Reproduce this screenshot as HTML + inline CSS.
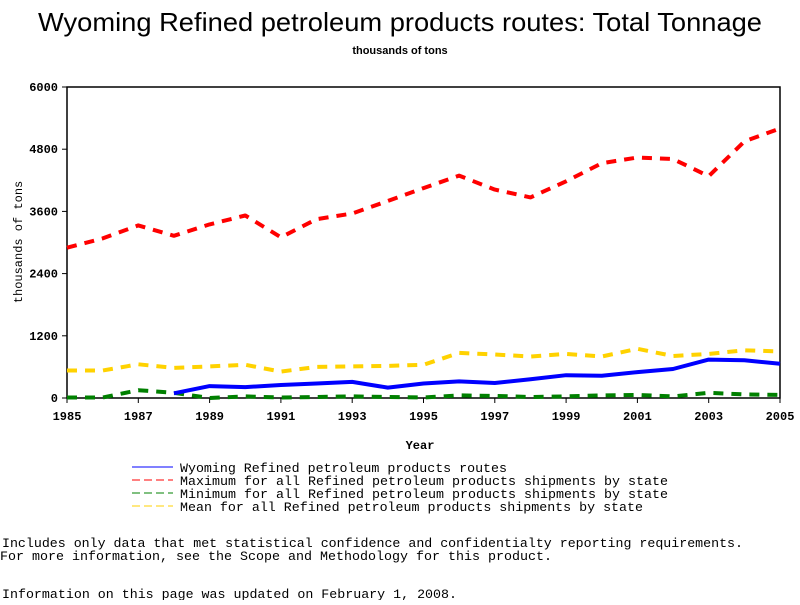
<!DOCTYPE html>
<html><head><meta charset="utf-8"><style>
body{margin:0;background:#fff;width:800px;height:600px;overflow:hidden}
svg text{font-family:"Liberation Mono",monospace}
</style></head><body>
<svg id="chart" width="800" height="600">
<text x="38" y="31" textLength="724" lengthAdjust="spacingAndGlyphs" font-size="26" style="font-family:'Liberation Sans',sans-serif">Wyoming Refined petroleum products routes: Total Tonnage</text>
<text x="400" y="54" text-anchor="middle" font-size="11" font-weight="bold" style="font-family:'Liberation Sans',sans-serif">thousands of tons</text>
<rect x="67" y="87" width="713" height="311" fill="none" stroke="#000" stroke-width="1.5"/>
<g id="axes"></g>
<g id="series"></g>
<text x="420" y="449" text-anchor="middle" font-size="12" font-weight="bold">Year</text>
<text transform="translate(22,242) rotate(-90)" text-anchor="middle" font-size="12">thousands of tons</text>
<g id="legend" font-size="12"></g>
<text x="2" y="547" font-size="12.5" textLength="741" lengthAdjust="spacingAndGlyphs">Includes only data that met statistical confidence and confidentialty reporting requirements.</text>
<text x="0" y="560" font-size="12.5" textLength="552" lengthAdjust="spacingAndGlyphs">For more information, see the Scope and Methodology for this product.</text>
<text x="2" y="598" font-size="12.5" textLength="455" lengthAdjust="spacingAndGlyphs">Information on this page was updated on February 1, 2008.</text>
</svg>
<script>
const years=[1985,1986,1987,1988,1989,1990,1991,1992,1993,1994,1995,1996,1997,1998,1999,2000,2001,2002,2003,2004,2005];
const maxVals=[2900,3080,3330,3130,3350,3520,3100,3450,3560,3800,4050,4290,4020,3870,4180,4530,4640,4610,4280,4950,5200];
const meanVals=[530,530,650,580,610,640,510,600,610,620,640,870,840,800,850,800,950,810,850,920,900];
const minVals=[10,10,150,100,0,30,10,20,30,20,10,50,40,20,30,50,60,30,100,70,60];
const wyVals=[null,null,null,90,230,210,250,280,310,200,280,320,290,360,440,430,500,560,740,730,660];
const yTicks=[0,1200,2400,3600,4800,6000];
const xTicks=[1985,1987,1989,1991,1993,1995,1997,1999,2001,2003,2005];
const legendLabels=["Wyoming Refined petroleum products routes","Maximum for all Refined petroleum products shipments by state","Minimum for all Refined petroleum products shipments by state","Mean for all Refined petroleum products shipments by state"];
const legendWidths=[327,488,488,463];
const NS="http://www.w3.org/2000/svg";
const X=y=>67+(y-1985)*(713/20);
const Y=v=>398-v*(311/6000);
const ax=document.getElementById('axes');
function mk(t,a,p){const e=document.createElementNS(NS,t);for(const k in a)e.setAttribute(k,a[k]);p.appendChild(e);return e;}
yTicks.forEach(v=>{
 const l=mk('line',{x1:62,x2:67,y1:Y(v),y2:Y(v),stroke:'#000'},ax);
 
 
 const t=mk('text',{x:58,y:Y(v)+4,'text-anchor':'end','font-size':12,'font-weight':'bold'},ax);t.textContent=v;
 
 
});
xTicks.forEach(v=>{
 const l=mk('line',{x1:X(v),x2:X(v),y1:398,y2:403,stroke:'#000'},ax);
 
 
 const t=mk('text',{x:X(v),y:420,'text-anchor':'middle','font-size':12,'font-weight':'bold'},ax);t.textContent=v;
 
 
});
const sg=document.getElementById('series');
function line(vals,color,dash,w,name){
 const pts=[];vals.forEach((v,i)=>{if(v!==null)pts.push(X(years[i]).toFixed(1)+','+Y(v).toFixed(1));});
 const p=mk('polyline',{points:pts.join(' '),fill:'none',stroke:color,'stroke-width':w,'stroke-dasharray':dash,'stroke-linejoin':'round'},sg);
 
 
}
line(minVals,'#008000','10,8',4,'series-minimum');
line(meanVals,'#ffd200','10,8',4,'series-mean');
line(maxVals,'#ff0000','10,8',4,'series-maximum');
line(wyVals,'#0000ff','none',4,'series-wyoming');
const lg=document.getElementById('legend');
const lc=['#0000ff','#ff0000','#008000','#ffd200'];
legendLabels.forEach((s,i)=>{
 const y=467+i*13;
 const l=mk('line',{x1:132,x2:173,y1:y,y2:y,stroke:lc[i],'stroke-dasharray':i?'8,4':'none'},lg);
 
 
 const t=mk('text',{x:180,y:y+5,'font-size':12.5,textLength:legendWidths[i],lengthAdjust:'spacingAndGlyphs'},lg);t.textContent=s;
 
 
});
</script>
</body></html>
